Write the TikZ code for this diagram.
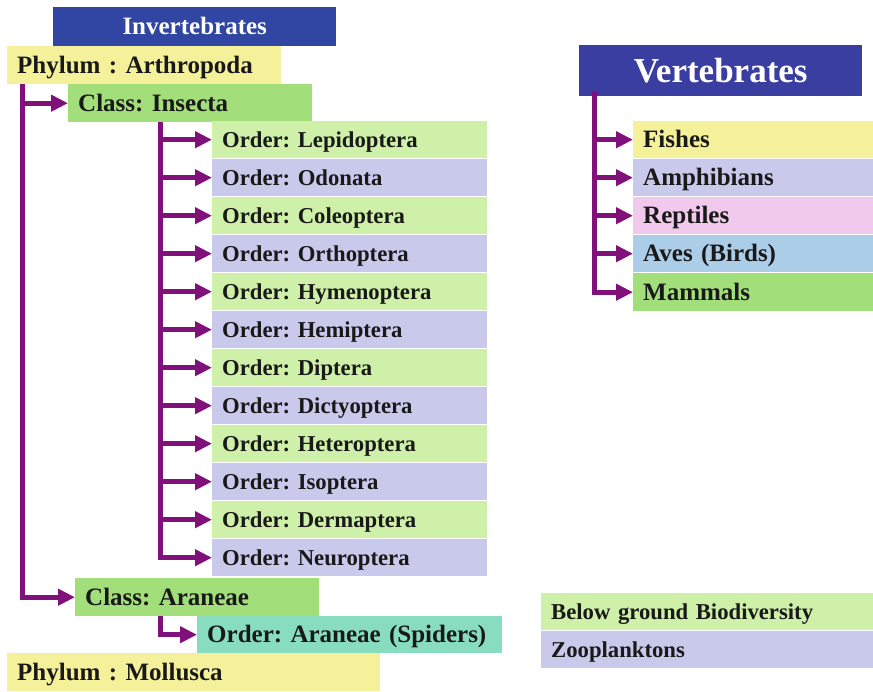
\documentclass[tikz,border=0pt]{standalone}
\usepackage{fontspec}
\setmainfont{Liberation Serif}
\usetikzlibrary{arrows.meta}
\frenchspacing

\definecolor{invblue}{RGB}{48,70,162}
\definecolor{vertblue}{RGB}{58,62,160}
\definecolor{phylc}{RGB}{245,241,155}
\definecolor{classc}{RGB}{162,222,122}
\definecolor{ordgreen}{RGB}{207,240,168}
\definecolor{ordlav}{RGB}{201,201,236}
\definecolor{reptc}{RGB}{240,201,236}
\definecolor{avesc}{RGB}{171,205,232}
\definecolor{spidc}{RGB}{136,221,192}
\definecolor{linkc}{RGB}{128,16,122}
\definecolor{ink}{RGB}{25,25,25}

\begin{document}
\frenchspacing
\begin{tikzpicture}[x=1pt, y=-1pt,
    box/.style={anchor=north west, inner xsep=10pt, inner ysep=0pt, align=left, text=ink,
        font=\bfseries\fontsize{25}{30}\selectfont, text height=16.5pt, text depth=0pt, minimum height=38pt},
    smallbox/.style={box, font=\bfseries\fontsize{22.7}{27}\selectfont, text height=15pt, minimum height=37pt},
    title/.style={anchor=north west, inner sep=0pt, text=white, font=\bfseries\fontsize{25}{30}\selectfont,
        text height=16.5pt, text depth=0pt},
    link/.style={draw=linkc, line width=5pt, -{Triangle[length=17pt, width=16pt]}}]
    \useasboundingbox (0,0) rectangle (873,691);
    % Invertebrates
    \node[title, fill=invblue, minimum width=283pt, minimum height=39pt] (inv) at (53,7) {Invertebrates};
    \node[box, fill=phylc, text width=254pt] (arth) at (7,46) {Phylum : Arthropoda};
    \node[box, fill=classc, text width=224pt] (insecta) at (68,84) {Class: Insecta};
    \coordinate (arthtrunk) at (22,84);
    \coordinate (instrunk) at (160,122);
    % Orders of insects
    \foreach \nm [count=\i] in {Lepidoptera, Odonata, Coleoptera, Orthoptera, Hymenoptera, Hemiptera,
        Diptera, Dictyoptera, Heteroptera, Isoptera, Dermaptera, Neuroptera} {
        \ifodd\i \def\rowc{ordgreen}\else \def\rowc{ordlav}\fi
        \node[smallbox, fill=\rowc, text width=255pt] (o\i) at (212,{121+38*(\i-1)}) {Order: \nm};
        \draw[link] (instrunk) |- (o\i.west);
    }
    % Spiders
    \node[box, fill=classc, text width=224pt] (aran) at (75,578) {Class: Araneae};
    \node[box, fill=spidc, text width=285pt, minimum height=37pt] (spid) at (197,616) {Order: Araneae (Spiders)};
    \coordinate (arantrunk) at (160,616);
    \node[box, fill=phylc, text width=353pt] (moll) at (7,653) {Phylum : Mollusca};
    \draw[link] (arthtrunk) |- (insecta.west);
    \draw[link] (arthtrunk) |- (aran.west);
    \draw[link] (arantrunk) |- (spid.west);
    % Vertebrates
    \node[title, fill=vertblue, minimum width=283pt, minimum height=51pt,
        font=\bfseries\fontsize{35}{42}\selectfont, text height=23pt] (vert) at (579,45) {Vertebrates};
    \coordinate (verttrunk) at (594,91);
    \node[box, fill=phylc, text width=220pt, minimum height=37pt] (v1) at (633,121) {Fishes};
    \node[box, fill=ordlav, text width=220pt, minimum height=37pt] (v2) at (633,159) {Amphibians};
    \node[box, fill=reptc, text width=220pt, minimum height=37pt] (v3) at (633,197) {Reptiles};
    \node[box, fill=avesc, text width=220pt, minimum height=37pt] (v4) at (633,235) {Aves (Birds)};
    \node[box, fill=classc, text width=220pt, minimum height=38pt] (v5) at (633,273) {Mammals};
    \foreach \k in {1,...,5}
        \draw[link] (verttrunk) |- (v\k.west);
    % Others
    \node[smallbox, fill=ordgreen, text width=312pt] (below) at (541,593) {Below ground Biodiversity};
    \node[smallbox, fill=ordlav, text width=312pt] (zoo) at (541,631) {Zooplanktons};
\end{tikzpicture}
\end{document}
